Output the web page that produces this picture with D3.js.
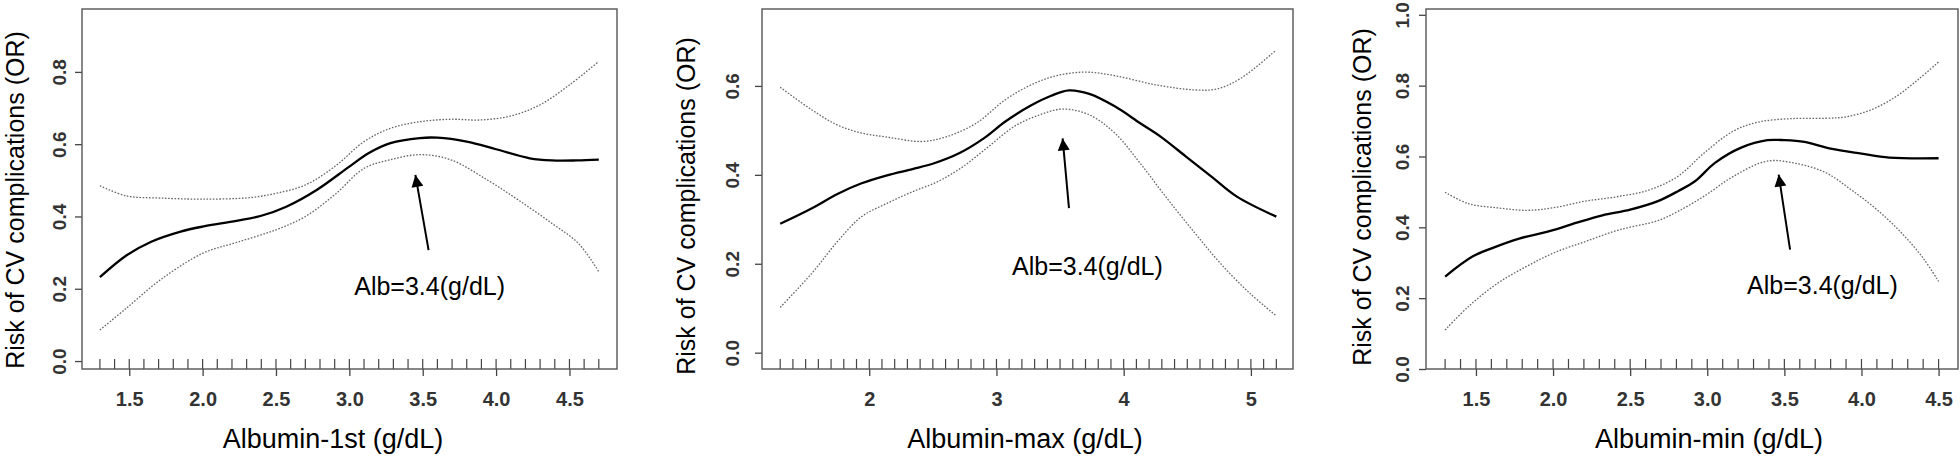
<!DOCTYPE html>
<html>
<head>
<meta charset="utf-8">
<script src="https://cdn.jsdelivr.net/npm/d3@7"></script>
<style>
  body { margin: 0; background: #fff; }
  svg text { font-family: "Liberation Sans", Arial, sans-serif; }
  .tick text { font-weight: bold; fill: #333; }
</style>
</head>
<body>
<div class="chart"></div>
<script>
var svgWidth = 1960;
var svgHeight = 457;

// ---- data ----
var xTitles = ["Albumin-1st (g/dL)", "Albumin-max (g/dL)", "Albumin-min (g/dL)"];
var yTitle = "Risk of CV complications (OR)";
var annotation = "Alb=3.4(g/dL)";

var xTicks1 = [1.5, 2.0, 2.5, 3.0, 3.5, 4.0, 4.5];
var xTicks2 = [2, 3, 4, 5];
var xTicks3 = [1.5, 2.0, 2.5, 3.0, 3.5, 4.0, 4.5];
var yTicks1 = [0.0, 0.2, 0.4, 0.6, 0.8];
var yTicks2 = [0.0, 0.2, 0.4, 0.6];
var yTicks3 = [0.0, 0.2, 0.4, 0.6, 0.8, 1.0];

// rug of observed albumin values
var rug1 = [1.3,1.4,1.5,1.6,1.7,1.8,1.9,2.0,2.1,2.2,2.3,2.4,2.5,2.6,2.7,2.8,2.9,3.0,3.1,3.2,3.3,3.4,3.5,3.6,3.7,3.8,3.9,4.0,4.1,4.2,4.3,4.4,4.5,4.6,4.7];
var rug2 = [1.3,1.4,1.5,1.6,1.7,1.8,1.9,2.0,2.1,2.2,2.3,2.4,2.5,2.6,2.7,2.8,2.9,3.0,3.1,3.2,3.3,3.4,3.5,3.6,3.7,3.8,3.9,4.0,4.1,4.2,4.3,4.4,4.5,4.6,4.7,4.8,4.9,5.0,5.1,5.2];
var rug3 = [1.3,1.4,1.5,1.6,1.7,1.8,1.9,2.0,2.1,2.2,2.3,2.4,2.5,2.6,2.7,2.8,2.9,3.0,3.1,3.2,3.3,3.4,3.5,3.6,3.7,3.8,3.9,4.0,4.1,4.2,4.3,4.4,4.5];

// Albumin-1st
var fit1 = [[1.3,0.232],[1.48,0.292],[1.65,0.33],[1.85,0.358],[2.0,0.372],[2.23,0.388],[2.4,0.402],[2.57,0.427],[2.78,0.474],[3.0,0.538],[3.13,0.575],[3.28,0.603],[3.48,0.617],[3.6,0.618],[3.8,0.607],[4.0,0.586],[4.23,0.561],[4.38,0.555],[4.55,0.555],[4.7,0.557]];
var upper1 = [[1.3,0.485],[1.48,0.457],[1.71,0.451],[2.0,0.448],[2.32,0.452],[2.5,0.464],[2.7,0.487],[2.9,0.538],[3.1,0.607],[3.28,0.644],[3.48,0.662],[3.69,0.669],[3.89,0.667],[4.1,0.678],[4.3,0.709],[4.5,0.764],[4.7,0.829]];
var lower1 = [[1.3,0.086],[1.48,0.146],[1.71,0.224],[2.0,0.298],[2.23,0.328],[2.5,0.363],[2.7,0.4],[2.9,0.46],[3.1,0.533],[3.28,0.557],[3.48,0.571],[3.69,0.557],[3.94,0.501],[4.15,0.446],[4.38,0.381],[4.56,0.326],[4.7,0.247]];

// Albumin-max
var fit2 = [[1.3,0.29],[1.55,0.325],[1.75,0.357],[1.94,0.381],[2.14,0.399],[2.34,0.413],[2.51,0.426],[2.71,0.449],[2.9,0.482],[3.07,0.52],[3.27,0.556],[3.43,0.578],[3.57,0.59],[3.73,0.582],[3.93,0.554],[4.13,0.516],[4.29,0.486],[4.49,0.441],[4.69,0.396],[4.89,0.351],[5.2,0.306]];
var upper2 = [[1.3,0.597],[1.55,0.546],[1.75,0.512],[1.94,0.494],[2.14,0.485],[2.41,0.475],[2.61,0.486],[2.84,0.516],[3.07,0.569],[3.27,0.602],[3.47,0.623],[3.7,0.631],[3.93,0.623],[4.26,0.602],[4.56,0.591],[4.73,0.593],[4.92,0.617],[5.2,0.681]];
var lower2 = [[1.3,0.102],[1.55,0.179],[1.75,0.25],[1.94,0.306],[2.14,0.336],[2.34,0.362],[2.54,0.385],[2.74,0.419],[2.94,0.464],[3.14,0.509],[3.34,0.535],[3.52,0.548],[3.73,0.535],[3.93,0.494],[4.13,0.426],[4.33,0.351],[4.56,0.269],[4.76,0.201],[4.99,0.134],[5.2,0.083]];

// Albumin-min
var fit3 = [[1.3,0.261],[1.48,0.318],[1.61,0.342],[1.78,0.368],[2.0,0.392],[2.16,0.414],[2.32,0.434],[2.5,0.45],[2.68,0.474],[2.81,0.502],[2.92,0.53],[3.05,0.582],[3.22,0.625],[3.39,0.646],[3.5,0.646],[3.63,0.641],[3.8,0.622],[4.0,0.608],[4.18,0.597],[4.5,0.595]];
var upper3 = [[1.3,0.499],[1.45,0.467],[1.64,0.455],[1.83,0.448],[2.0,0.455],[2.21,0.474],[2.41,0.486],[2.62,0.505],[2.81,0.544],[2.98,0.61],[3.17,0.672],[3.33,0.697],[3.55,0.707],[3.77,0.708],[3.9,0.712],[4.07,0.733],[4.23,0.771],[4.37,0.818],[4.5,0.867]];
var lower3 = [[1.3,0.11],[1.45,0.176],[1.64,0.242],[1.83,0.29],[2.0,0.327],[2.21,0.36],[2.43,0.393],[2.68,0.419],[2.81,0.445],[2.98,0.488],[3.17,0.544],[3.39,0.587],[3.58,0.58],[3.77,0.554],[3.93,0.507],[4.1,0.45],[4.26,0.384],[4.4,0.313],[4.5,0.247]];

// arrow tail, arrow head, label centre (data units)
var arrow1 = [[3.54, 0.307], [3.45, 0.515], [3.547, 0.209]];
var arrow2 = [[3.57, 0.325], [3.52, 0.482], [3.715, 0.194]];
var arrow3 = [[3.537, 0.337], [3.463, 0.549], [3.747, 0.236]];

// ---- layout ----
var panels = [
  { box: [82, 9, 617, 369], xDom: [1.178, 4.824], yDom: [-0.022, 0.974],
    xTicks: xTicks1, yTicks: yTicks1, fmt: d3.format(".1f"), rug: rug1,
    fit: fit1, upper: upper1, lower: lower1, arrow: arrow1,
    labOff: 23, yTitleX: 15, yTitleY: 200, xTitleX: 333 },
  { box: [762, 9, 1293, 369], xDom: [1.157, 5.331], yDom: [-0.0367, 0.773],
    xTicks: xTicks2, yTicks: yTicks2, fmt: d3.format("d"), rug: rug2,
    fit: fit2, upper: upper2, lower: lower2, arrow: arrow2,
    labOff: 30, yTitleX: 686, yTitleY: 206, xTitleX: 1025 },
  { box: [1426, 9, 1958, 369], xDom: [1.176, 4.626], yDom: [0, 1.0164],
    xTicks: xTicks3, yTicks: yTicks3, fmt: d3.format(".1f"), rug: rug3,
    fit: fit3, upper: upper3, lower: lower3, arrow: arrow3,
    labOff: 24, yTitleX: 1362, yTitleY: 197, xTitleX: 1709 }
];

var svg = d3.select(".chart")
  .append("svg")
  .attr("width", svgWidth)
  .attr("height", svgHeight);

svg.append("rect")
  .attr("width", svgWidth)
  .attr("height", svgHeight)
  .attr("fill", "#fff");

svg.append("defs").append("marker")
  .attr("id", "head")
  .attr("viewBox", "0 0 10 10")
  .attr("refX", 10)
  .attr("refY", 5)
  .attr("markerWidth", 15)
  .attr("markerHeight", 12)
  .attr("markerUnits", "userSpaceOnUse")
  .attr("orient", "auto")
  .append("path")
  .attr("d", "M0,0L10,5L0,10Z")
  .attr("fill", "#000");

panels.forEach(function(p, i) {
  var x0 = p.box[0], y0 = p.box[1], x1 = p.box[2], y1 = p.box[3];

  var xScale = d3.scaleLinear().domain(p.xDom).range([x0, x1]);
  var yScale = d3.scaleLinear().domain(p.yDom).range([y1, y0]);

  var g = svg.append("g");

  // x axis: outward ticks below the box
  var xAxis = g.append("g")
    .attr("transform", `translate(0, ${y1})`)
    .call(d3.axisBottom(xScale)
      .tickValues(p.xTicks)
      .tickFormat(p.fmt)
      .tickSizeInner(7)
      .tickSizeOuter(0)
      .tickPadding(10));
  xAxis.select(".domain").remove();
  xAxis.selectAll("line").attr("stroke", "#444").attr("stroke-width", 1.3);
  xAxis.selectAll("text")
    .attr("font-size", "20px")
    .attr("dy", null)
    .attr("y", 37);

  // y axis: labels parallel to axis
  var yAxis = g.append("g")
    .attr("transform", `translate(${x0}, 0)`)
    .call(d3.axisLeft(yScale)
      .tickValues(p.yTicks)
      .tickFormat(d3.format(".1f"))
      .tickSizeInner(7)
      .tickSizeOuter(0));
  yAxis.select(".domain").remove();
  yAxis.selectAll("line").attr("stroke", "#444").attr("stroke-width", 1.3);
  yAxis.selectAll("text")
    .attr("font-size", "19px")
    .attr("x", null)
    .attr("dy", null)
    .attr("text-anchor", "middle")
    .attr("dominant-baseline", "central")
    .attr("transform", `translate(${-p.labOff}, 0) rotate(-90)`);

  // rug
  g.append("g").selectAll("line")
    .data(p.rug)
    .enter()
    .append("line")
    .attr("x1", d => xScale(d))
    .attr("x2", d => xScale(d))
    .attr("y1", y1)
    .attr("y2", y1 - 10)
    .attr("stroke", "#444")
    .attr("stroke-width", 1.2);

  // frame
  g.append("rect")
    .attr("x", x0)
    .attr("y", y0)
    .attr("width", x1 - x0)
    .attr("height", y1 - y0)
    .attr("fill", "none")
    .attr("stroke", "#555")
    .attr("stroke-width", 1.4);

  var line = d3.line()
    .x(d => xScale(d[0]))
    .y(d => yScale(d[1]))
    .curve(d3.curveCatmullRom.alpha(0.5));

  [p.upper, p.lower].forEach(function(band) {
    g.append("path")
      .attr("d", line(band))
      .attr("fill", "none")
      .attr("stroke", "#666")
      .attr("stroke-width", 1.3)
      .attr("stroke-dasharray", "1.6,1.6");
  });

  g.append("path")
    .attr("d", line(p.fit))
    .attr("fill", "none")
    .attr("stroke", "#000")
    .attr("stroke-width", 2.3);

  // arrow + label
  var a = p.arrow;
  g.append("line")
    .attr("x1", xScale(a[0][0]))
    .attr("y1", yScale(a[0][1]))
    .attr("x2", xScale(a[1][0]))
    .attr("y2", yScale(a[1][1]))
    .attr("stroke", "#000")
    .attr("stroke-width", 2)
    .attr("marker-end", "url(#head)");

  g.append("text")
    .attr("x", xScale(a[2][0]))
    .attr("y", yScale(a[2][1]))
    .attr("text-anchor", "middle")
    .attr("dominant-baseline", "central")
    .attr("font-size", "25px")
    .attr("fill", "#000")
    .text(annotation);

  // axis titles
  g.append("text")
    .attr("x", p.xTitleX)
    .attr("y", 448)
    .attr("text-anchor", "middle")
    .attr("font-size", "27px")
    .attr("fill", "#000")
    .text(xTitles[i]);

  g.append("text")
    .attr("transform", `translate(${p.yTitleX}, ${p.yTitleY}) rotate(-90)`)
    .attr("text-anchor", "middle")
    .attr("dominant-baseline", "central")
    .attr("font-size", "25px")
    .attr("fill", "#000")
    .text(yTitle);
});
</script>
</body>
</html>
